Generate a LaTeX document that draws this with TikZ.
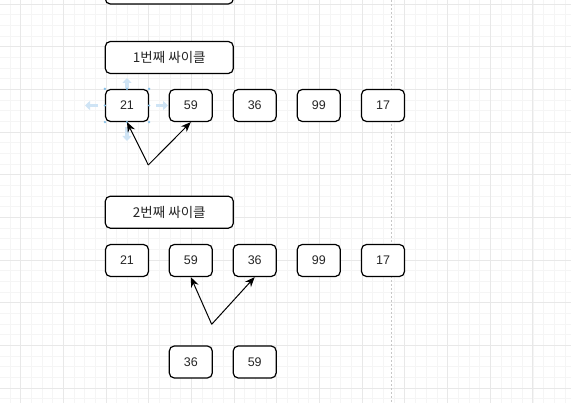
\documentclass[tikz,border=0pt]{standalone}
\usepackage{fontspec}
\setmainfont{Liberation Sans}
\newfontfamily\krfont{Noto Sans CJK KR}
\usetikzlibrary{positioning, arrows.meta}

\definecolor{gridminor}{HTML}{F5F5F5}
\definecolor{gridmajor}{HTML}{E8E8E8}
\definecolor{hoverblue}{HTML}{CFE4F5}
\definecolor{selblue}{HTML}{86BFE6}

\tikzset{
  cell/.style={draw, fill=white, line width=1.2pt, rounded corners=5pt, minimum width=43pt,
    minimum height=32pt, inner sep=0pt, text=black!85,
    font=\fontsize{12.5}{14}\selectfont},
  cyclebox/.style={cell, minimum width=128pt, font=\krfont\fontsize{13.5}{15}\selectfont},
  link/.style={-{Stealth[length=10pt,width=8pt]}, line width=1pt},
  hover/.style={hoverblue, line width=3.5pt, -{Triangle[length=5pt,width=9pt]}},
}

\begin{document}
\begin{tikzpicture}[x=1pt, y=-1pt]
    \useasboundingbox (0,0) rectangle (571,403);
    \clip (0,0) rectangle (571,403);
    \fill[white] (0,0) rectangle (571,403);

    % Grid
    \foreach \i in {0,...,53} {
        \draw[gridminor, line width=0.6pt] ({20.67+10.67*(\i-2)},0) -- ++(0,403);
    }
    \foreach \i in {0,...,38} {
        \draw[gridminor, line width=0.6pt] (0,{4+10.67*(\i-1)}) -- ++(571,0);
    }
    \foreach \i in {0,...,13} {
        \draw[gridmajor, line width=0.8pt] ({20.67+42.67*\i},0) -- ++(0,403);
    }
    \foreach \i in {0,...,9} {
        \draw[gridmajor, line width=0.8pt] (0,{4+42.67*\i}) -- ++(571,0);
    }
    \draw[black!22, line width=0.6pt, dash pattern=on 2pt off 2pt] (391.7,0) -- (391.7,403);

    % Previous box (cut off)
    \node[cyclebox] (prev) at (169.3,-12) {};

    % First cycle
    \node[cyclebox] (c1) at (169.3,57.5) {1번째 싸이클};
    \node[cell] (a1) at (127,105.5) {21};
    \node[cell] (a2) at (190.8,105.5) {59};
    \node[cell] (a3) at (254.7,105.5) {36};
    \node[cell] (a4) at (318.8,105.5) {99};
    \node[cell] (a5) at (383,105.5) {17};

    % Selection handles on 21
    \draw[hover] (127,88) -- (127,78);
    \draw[hover] (98,105.5) -- (85,105.5);
    \draw[hover] (156,105.5) -- (168,105.5);
    \draw[hover] (127,127) -- (127,141);
    \foreach \p in {north west, north, north east, east, south east, south, south west, west} {
        \fill[selblue] (a1.\p) circle (1.3pt);
    }

    \coordinate (p1) at (148.3,165);
    \draw[link] (p1) -- (a1.south);
    \draw[link] (p1) -- (a2.south);

    % Second cycle
    \node[cyclebox] (c2) at (169.3,212.2) {2번째 싸이클};
    \node[cell] (b1) at (127,260.5) {21};
    \node[cell] (b2) at (190.8,260.5) {59};
    \node[cell] (b3) at (254.7,260.5) {36};
    \node[cell] (b4) at (318.8,260.5) {99};
    \node[cell] (b5) at (383,260.5) {17};

    \coordinate (p2) at (211.7,324.3);
    \draw[link] (p2) -- (b2.south);
    \draw[link] (p2) -- (b3.south);

    \node[cell] (s1) at (190.8,362) {36};
    \node[cell] (s2) at (254.7,362) {59};
\end{tikzpicture}
\end{document}
